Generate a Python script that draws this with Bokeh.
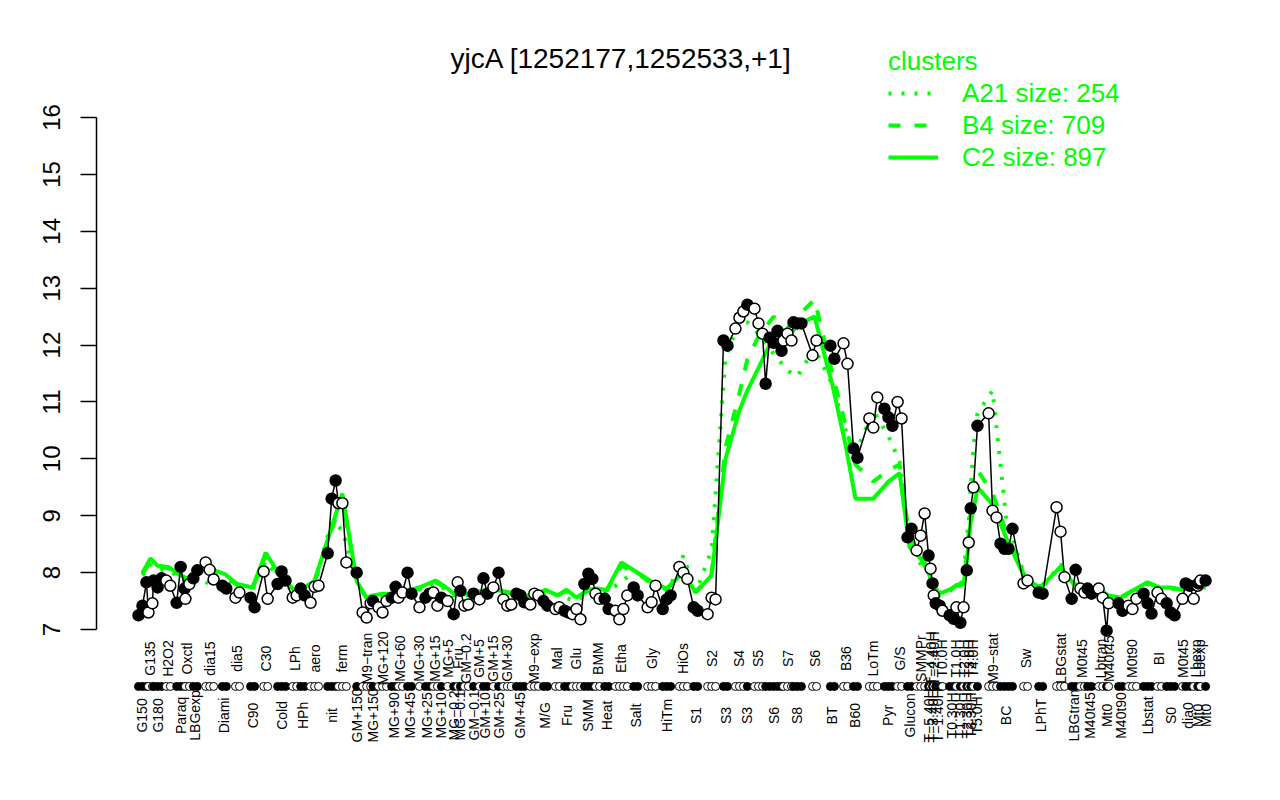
import math
from bokeh.plotting import figure
from bokeh.models import FixedTicker, Legend, LegendItem
from bokeh.core.properties import value
from bokeh.embed import file_html
from bokeh.resources import INLINE

TITLE = "yjcA [1252177,1252533,+1]"

labels = ["G150","G135","G180","H2O2","Paraq","Oxctl","LBGexp","dia15","Diami","dia5",
          "C90","C30","Cold","LPh","HPh","aero","nit","ferm","GM+150","M9\u2212tran",
          "MG+150","MG+120","MG+90","MG+60","MG+45","MG+30","MG+25","MG+15","MG+10","MG+5",
          "MG\u22120.2","Fru","MG\u22120.1","GM\u22120.2","GM\u22120.1","GM+5","GM+10","GM+15","GM+25","GM+30",
          "GM+45","M9\u2212exp","M/G","Mal","Fru","Glu","SMM","BMM","Heat","Etha",
          "Salt","Gly","HiTm","HiOs","S1","S2","S3","S4","S3","S5",
          "S6","S7","S8","S6","BT","B36","B60","LoTm","Pyr","G/S",
          "Glucon","SMMPr","T\u22125.40H","T\u22124.40H","T\u22123.40H","T\u22122.40H","T\u22121.40H","T0.0H","T0.30H","T1.0H",
          "T1.30H","T2.0H","T2.30H","T3.0H","T3.30H","T4.0H","T5.0H","M9\u2212stat","BC","Sw",
          "LPhT","LBGstat","LBGtran","M0t45","M40t45","Lbtran","Mt0","M40t45","M40t90","M0t90",
          "Lbstat","BI","S0","M0t45","dia0","Lbexp","Mt0","Lbexp","Mt0"]

# position of each condition group along the x axis (condition order units)
x_start = [0.0, 2.5, 3.8, 7.0, 9.6, 11.8, 13.8, 16.9, 21.1, 24.4,
           28.2, 31.5, 35.0, 38.8, 40.8, 43.3, 47.6, 50.3, 54.9, 56.4,
           59.0, 60.4, 63.7, 65.4, 67.7, 70.7, 72.2, 74.2, 76.2, 77.8,
           79.3, 80.3, 81.0, 82.0, 84.3, 85.8, 86.8, 89.3, 90.6, 91.8,
           95.1, 98.6, 101.9, 104.9, 107.2, 109.2, 112.2, 115.0, 117.3, 120.0,
           124.6, 128.1, 131.9, 136.1, 139.7, 143.2, 147.2, 150.2, 153.2, 155.0,
           157.8, 162.3, 164.8, 169.6, 174.1, 177.4, 179.9, 183.9, 187.7, 191.0,
           193.5, 195.8, 198.8, 199.3, 199.8, 200.1, 200.6, 202.3, 204.1, 205.8,
           206.8, 207.6, 208.4, 208.9, 209.4, 210.1, 211.1, 213.9, 216.9, 222.7,
           226.5, 231.0, 234.8, 237.0, 238.8, 241.6, 243.6, 244.1, 246.6, 249.1,
           252.9, 256.4, 258.7, 262.7, 263.5, 265.5, 266.7, 267.2, 268.5]

values = [[7.25, 7.42, 7.83], [7.30, 7.46], [7.86, 7.74, 7.90], [7.86, 7.77], [7.47, 8.10, 7.72],
          [7.54, 7.80], [7.90, 8.04], [8.18, 8.05, 7.88], [7.77, 7.72], [7.56, 7.65],
          [7.56, 7.39], [8.02, 7.54], [7.80, 8.02, 7.86], [7.56, 7.60], [7.72, 7.60],
          [7.47, 7.75, 7.77], [8.34, 9.30, 9.62], [9.22, 9.22, 8.18], [8.00], [7.30, 7.21, 7.46],
          [7.50], [7.39, 7.30, 7.50], [7.56, 7.75], [7.56, 7.65], [8.00, 7.63],
          [7.39], [7.56, 7.63], [7.65, 7.42], [7.56], [7.50],
          [7.27], [7.83], [7.68], [7.42, 7.44], [7.63],
          [7.53], [7.90, 7.63], [7.74], [8.00], [7.53, 7.42, 7.44],
          [7.63, 7.60, 7.48], [7.44, 7.63, 7.60], [7.50, 7.42], [7.36, 7.39], [7.33, 7.30],
          [7.27, 7.36, 7.18], [7.80, 7.98, 7.89], [7.63, 7.54], [7.54, 7.36], [7.33, 7.18, 7.36, 7.60],
          [7.74, 7.60], [7.39, 7.48, 7.77], [7.36, 7.53, 7.60], [8.10, 8.00, 7.89], [7.39, 7.33],
          [7.27, 7.56, 7.53], [12.08, 11.99], [12.29, 12.48, 12.59], [12.71], [12.64, 12.38, 12.20],
          [11.32, 12.13, 12.04, 12.25, 11.90], [12.08, 12.20, 12.08], [12.40, 12.38, 12.38], [11.82, 12.08], [11.99, 11.76],
          [12.03, 11.67], [10.18, 10.02], [10.71, 10.55, 11.08], [10.88, 10.73, 10.58], [11.00, 10.71],
          [8.62, 8.77], [8.39, 8.65, 9.04], [8.30], [8.07], [7.81],
          [7.60], [7.46, 7.42], [7.33], [7.25, 7.19], [7.39],
          [7.12], [7.39], [8.04], [8.53], [9.13],
          [9.50], [10.58], [10.80, 9.09, 8.97], [8.51, 8.42, 8.42, 8.77], [7.81, 7.86],
          [7.65, 7.63], [9.15, 8.72, 7.92], [7.54, 8.05], [7.72, 7.65], [7.72, 7.63],
          [7.72, 7.56], [6.98], [7.46], [7.46, 7.33], [7.42, 7.36, 7.54],
          [7.63, 7.46, 7.28], [7.65, 7.54], [7.46, 7.30, 7.25], [7.54], [7.81, 7.77],
          [7.54, 7.77], [7.81], [7.86], [7.86]]

c2 = [8.00, 8.25, 8.12, 8.10, 7.95, 7.90, 8.00, 8.07, 7.98, 7.80,
      7.74, 8.35, 7.90, 7.69, 7.72, 7.86, 8.80, 9.39, 7.85, 7.56,
      7.60, 7.63, 7.63, 7.65, 7.70, 7.74, 7.80, 7.86, 7.80, 7.72,
      7.63, 7.63, 7.63, 7.63, 7.65, 7.67, 7.69, 7.69, 7.69, 7.66,
      7.60, 7.60, 7.70, 7.60, 7.70, 7.56, 7.70, 7.72, 7.69, 8.18,
      8.02, 7.84, 7.72, 8.00, 7.65, 7.95, 10.00, 10.85, 11.20, 11.60,
      12.15, 12.13, 12.35, 12.50, 11.30, 10.25, 9.30, 9.30, 9.60, 9.75,
      8.45, 8.25, 8.00, 7.90, 7.80, 7.72, 7.65, 7.65, 7.72, 7.77,
      7.77, 7.80, 8.20, 8.50, 8.90, 9.10, 9.50, 9.20, 8.60, 7.88,
      7.74, 8.10, 7.80, 7.75, 7.73, 7.70, 7.60, 7.60, 7.56, 7.68,
      7.83, 7.74, 7.74, 7.70, 7.78, 7.80, 7.78, 7.75, 7.74]

b4 = [7.98, 8.20, 8.10, 8.08, 7.93, 7.88, 7.98, 8.03, 7.95, 7.78,
      7.72, 8.30, 7.88, 7.68, 7.70, 7.84, 8.75, 9.30, 7.82, 7.55,
      7.60, 7.62, 7.62, 7.64, 7.68, 7.72, 7.78, 7.83, 7.78, 7.70,
      7.62, 7.62, 7.62, 7.62, 7.64, 7.66, 7.68, 7.68, 7.68, 7.65,
      7.60, 7.60, 7.68, 7.60, 7.68, 7.56, 7.68, 7.70, 7.68, 8.12,
      8.00, 7.82, 7.70, 8.05, 7.66, 7.98, 10.20, 11.15, 11.75, 12.15,
      12.50, 12.30, 12.50, 12.80, 11.50, 10.60, 9.90, 9.60, 9.80, 9.90,
      8.60, 8.30, 8.05, 7.95, 7.85, 7.75, 7.68, 7.66, 7.72, 7.78,
      7.80, 7.85, 8.30, 8.70, 9.10, 9.40, 9.80, 9.40, 8.70, 7.90,
      7.75, 8.10, 7.80, 7.75, 7.73, 7.70, 7.62, 7.60, 7.57, 7.68,
      7.82, 7.74, 7.73, 7.70, 7.76, 7.78, 7.77, 7.75, 7.74]

a21 = [7.95, 8.15, 8.05, 8.05, 7.90, 7.85, 7.95, 7.80, 7.90, 7.75,
       7.70, 8.20, 7.85, 7.65, 7.70, 7.80, 8.90, 8.75, 7.85, 7.55,
       7.58, 7.60, 7.60, 7.62, 7.66, 7.70, 7.75, 7.80, 7.75, 7.68,
       7.60, 7.60, 7.60, 7.60, 7.62, 7.64, 7.66, 7.66, 7.66, 7.63,
       7.58, 7.58, 7.65, 7.60, 7.55, 7.50, 7.65, 7.65, 7.65, 7.85,
       8.02, 7.80, 7.62, 8.30, 7.65, 8.40, 11.80, 12.40, 12.40, 12.20,
       11.85, 11.55, 11.45, 11.95, 11.30, 10.50, 10.10, 10.85, 10.40, 9.95,
       8.55, 8.15, 8.00, 7.90, 7.80, 7.70, 7.60, 7.60, 7.70, 7.75,
       7.80, 7.90, 8.60, 8.90, 9.50, 10.20, 10.80, 11.20, 8.90, 7.90,
       7.70, 8.15, 7.80, 7.72, 7.70, 7.68, 7.58, 7.58, 7.55, 7.65,
       7.80, 7.72, 7.72, 7.68, 7.76, 7.78, 7.76, 7.74, 7.72]

cluster_names = ["A21 size: 254", "B4 size: 709", "C2 size: 897"]

GREEN = "#00FF00"
FONT = "Liberation Sans"

# build point table
px, py, pfill = [], [], []
centers = []
for i, (x0, vals) in enumerate(zip(x_start, values)):
    for j, v in enumerate(vals):
        px.append(x0 + j)
        py.append(v)
        pfill.append("black" if i % 2 == 0 else "white")
    centers.append(x0 + (len(vals) - 1) / 2.0)

p = figure(width=1272, height=784, output_backend="svg", toolbar_location=None,
           x_range=(-10.57, 279.8), y_range=(4.698, 17.705), title=None,
           min_border_left=96, min_border_right=22, min_border_top=20, min_border_bottom=24)
p.xaxis.visible = False
p.xgrid.visible = False
p.ygrid.visible = False
p.outline_line_color = None
p.background_fill_color = "white"

ax = p.yaxis[0]
ax.ticker = FixedTicker(ticks=list(range(7, 17)))
ax.bounds = (7, 16)
ax.major_label_orientation = "vertical"
ax.major_label_text_font = FONT
ax.major_label_text_font_size = "24px"
ax.major_label_text_color = "black"
ax.major_label_standoff = 20
ax.axis_line_width = 1.5
ax.axis_line_color = "black"
ax.major_tick_line_width = 1.5
ax.major_tick_out = 16
ax.major_tick_in = 0
ax.minor_tick_out = 0
ax.minor_tick_in = 0

# cluster lines
r_a21 = p.line(centers, a21, line_color=GREEN, line_width=4, line_dash="3 10")
r_b4 = p.line(centers, b4, line_color=GREEN, line_width=4, line_dash="12 14")
r_c2 = p.line(centers, c2, line_color=GREEN, line_width=4)

# gene profile
p.line(px, py, line_color="black", line_width=1.5)
p.scatter(px, py, size=11, fill_color=pfill, line_color="black", line_width=1.5)

# rug of conditions under the plot
p.scatter(px, [6.0] * len(px), size=8, fill_color=pfill, line_color="black", line_width=1)

# condition labels, alternating rows
lab_y = [5.49 if i % 2 == 0 else 6.49 for i in range(len(labels))]
p.text(centers, lab_y, text=labels, angle=math.pi / 2, text_align="center",
       text_baseline="middle", text_font=value(FONT), text_font_size="14px",
       text_color="black")

# title
p.text([121.5], [17.035], text=[TITLE], text_align="center", text_baseline="middle",
       text_font=value(FONT), text_font_size="28px", text_color="black")

legend = Legend(items=[LegendItem(label=cluster_names[0], renderers=[r_a21]),
                       LegendItem(label=cluster_names[1], renderers=[r_b4]),
                       LegendItem(label=cluster_names[2], renderers=[r_c2])],
                location=(792, 587), title="clusters")
legend.title_text_color = GREEN
legend.title_text_font = FONT
legend.title_text_font_size = "26px"
legend.title_text_font_style = "normal"
legend.title_standoff = 0
legend.label_text_color = GREEN
legend.label_text_font = FONT
legend.label_text_font_size = "26px"
legend.glyph_width = 50
legend.glyph_height = 32
legend.label_height = 32
legend.label_standoff = 24
legend.spacing = 0
legend.padding = 0
legend.margin = 0
legend.border_line_color = None
legend.background_fill_alpha = 0
p.add_layout(legend, "center")

open("out.html", "w").write(file_html(p, INLINE))
